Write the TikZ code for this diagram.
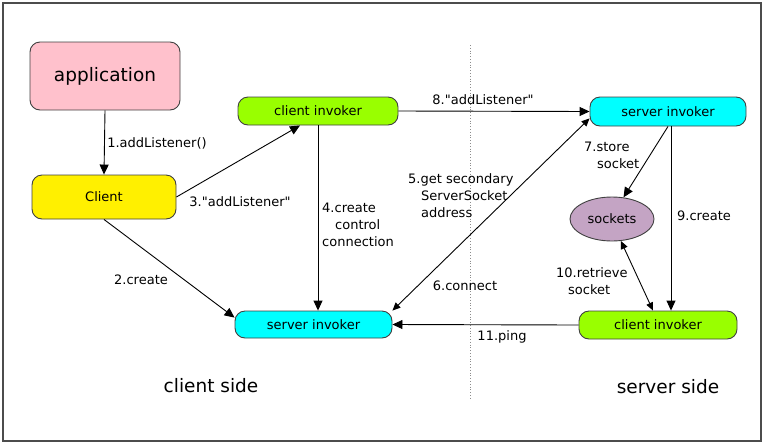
\documentclass[tikz,border=0pt]{standalone}
\usepackage{fontspec}
\setmainfont{DejaVu Sans}
\usetikzlibrary{arrows.meta,calc,shapes.geometric}

\definecolor{apppink}{RGB}{255,193,204}
\definecolor{clientyellow}{RGB}{255,240,0}
\definecolor{invgreen}{RGB}{153,255,0}
\definecolor{invcyan}{RGB}{0,255,255}
\definecolor{sockpurple}{RGB}{196,164,196}

\begin{document}
\begin{tikzpicture}[x=1pt, y=-1pt,
      every node/.style = {inner sep=0pt, font=\fontsize{13}{17}\selectfont},
      box/.style = {draw=black!75, line width=0.9pt, rounded corners=10pt},
      lbl/.style = {align=left},
      big/.style = {font=\fontsize{18.5}{22}\selectfont},
      conn/.style = {line width=0.9pt, -{Triangle[length=10pt,width=9pt]}},
      bothconn/.style = {line width=0.9pt, {Triangle[length=8pt,width=7pt]}-{Triangle[length=8pt,width=7pt]}}]
    \useasboundingbox (0,0) rectangle (765,445);
    \draw[black!70, line width=1.3pt] (3,3) rectangle (761,441);
    \draw[black!45, line width=0.8pt, dotted] (470,45) -- (470,399);

    \node[box, fill=apppink, minimum width=150pt, minimum height=68pt, big] (app) at (105,76) {application};
    \node[box, fill=clientyellow, minimum width=144pt, minimum height=44pt] (client) at (104,197) {Client};
    \node[box, fill=invgreen, minimum width=160pt, minimum height=28pt] (cinv) at (318,111) {client invoker};
    \node[box, fill=invcyan, minimum width=156pt, minimum height=29pt] (sinvs) at (668,111.5) {server invoker};
    \node[draw=black!75, line width=0.9pt, ellipse, fill=sockpurple, minimum width=84pt, minimum height=44pt] (sockets) at (612,219) {sockets};
    \node[box, fill=invcyan, minimum width=157pt, minimum height=27pt] (sinvc) at (313.5,324.5) {server invoker};
    \node[box, fill=invgreen, minimum width=158pt, minimum height=28pt] (cinvs) at (658,325) {client invoker};
    \coordinate (s9) at ($(sinvs.south)+(3,0)$);

    \draw[conn] (app.south) -- (client.north);
    \draw[conn] (client.south) -- (sinvc.175);
    \draw[conn] (client.east) -- ($(cinv.south)+(-18,0)$);
    \draw[conn] (cinv.south) -- (cinv.south |- sinvc.north);
    \draw[bothconn] (sinvc.north east) -- (sinvs.185);
    \draw[conn] (cinv.east) -- (sinvs.west);
    \draw[conn] (sinvs.south) -- (sockets.62);
    \draw[conn] (s9) -- (s9 |- cinvs.north);
    \draw[bothconn] (sockets.-68) -- ($(cinvs.north)+(-5,0)$);
    \draw[conn] (cinvs.west) -- (sinvc.east);

    \node (l1) at (157,143) {1.addListener()};
    \node (l2) at (141,280) {2.create};
    \node (l3) at (240,202) {3.\textquotedbl addListener\textquotedbl};
    \node[lbl, anchor=west] (l4) at (322,224.5) {4.create\\\hspace*{13pt}control\\connection};
    \node[lbl, anchor=west] (l5) at (408,196) {5.get secondary\\\hspace*{13pt}ServerSocket\\\hspace*{13pt}address};
    \node (l6) at (465,286) {6.connect};
    \node[lbl, anchor=west] (l7) at (584,155.5) {7.store\\\hspace*{13pt}socket};
    \node (l8) at (483,100) {8.\textquotedbl addListener\textquotedbl};
    \node (l9) at (704,216) {9.create};
    \node[lbl, anchor=west] (l10) at (556,281.5) {10.retrieve\\\hspace*{12pt}socket};
    \node (l11) at (502,337) {11.ping};
    \node[big] (cside) at (211,386) {client side};
    \node[big] (sside) at (668,387) {server side};
\end{tikzpicture}
\end{document}
